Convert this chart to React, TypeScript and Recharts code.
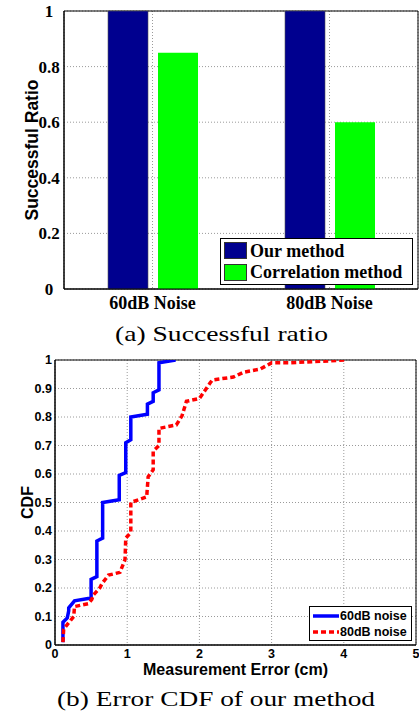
import {
  Bar,
  BarChart,
  CartesianGrid,
  Label,
  Legend,
  Line,
  LineChart,
  ReferenceArea,
  XAxis,
  YAxis,
} from "recharts";

// (a) successful ratio
const categories = ["60dB Noise", "80dB Noise"];
const barSeries = ["Our method", "Correlation method"];
const ourMethod = [1.0, 1.0];
const correlationMethod = [0.85, 0.6];
const ratioTicks = [0, 0.2, 0.4, 0.6, 0.8, 1];

// (b) error CDF
const lineSeries = ["60dB noise", "80dB noise"];
const err60 = [
  0.11, 0.11, 0.17, 0.19, 0.19, 0.27, 0.5, 0.5, 0.58, 0.58, 0.66, 0.66, 0.89,
  0.89, 0.98, 0.98, 1.05, 1.05, 1.28, 1.28, 1.36, 1.36, 1.44, 1.44, 1.67,
];
const cdf60 = [
  0.01, 0.08, 0.095, 0.12, 0.13, 0.155, 0.165, 0.23, 0.24, 0.365, 0.375, 0.5,
  0.51, 0.595, 0.605, 0.71, 0.72, 0.8, 0.81, 0.845, 0.855, 0.885, 0.895, 0.99,
  1.0,
];
const err80 = [
  0.11, 0.12, 0.18, 0.26, 0.27, 0.46, 0.51, 0.53, 0.62, 0.65, 0.74, 0.9, 0.97,
  0.98, 1.05, 1.05, 1.27, 1.29, 1.36, 1.36, 1.44, 1.44, 1.68, 1.76, 1.82, 2.0,
  2.07, 2.15, 2.18, 2.47, 2.61, 2.84, 3.0, 3.25, 4.04,
];
const cdf80 = [
  0.01, 0.055, 0.075, 0.1, 0.135, 0.145, 0.16, 0.175, 0.2, 0.215, 0.245, 0.255,
  0.3, 0.375, 0.395, 0.5, 0.52, 0.59, 0.615, 0.68, 0.7, 0.76, 0.772, 0.805,
  0.855, 0.865, 0.89, 0.92, 0.93, 0.94, 0.957, 0.968, 0.99, 0.99, 1.0,
];
const errTicks = [0, 1, 2, 3, 4, 5];
const cdfTicks = [0, 0.1, 0.2, 0.3, 0.4, 0.5, 0.6, 0.7, 0.8, 0.9, 1];

const barData = categories.map((name, i) => ({
  name,
  ours: ourMethod[i],
  corr: correlationMethod[i],
}));
const noise60 = err60.map((err, i) => ({ err, cdf: cdf60[i] }));
const noise80 = err80.map((err, i) => ({ err, cdf: cdf80[i] }));

const SERIF = '"Liberation Serif", "Times New Roman", serif';
const SANS = '"Liberation Sans", Arial, sans-serif';
const GRID = "#9a9a9a";

const lineDash: Record<string, string | undefined> = {
  "60dB noise": undefined,
  "80dB noise": "5 3",
};

// legend keeps series order, not alphabetical
const ordered = (payload: any[] = [], order: string[]) =>
  [...payload].sort((a, b) => order.indexOf(a.value) - order.indexOf(b.value));

function RatioTick({ y, payload }: any) {
  return (
    <text
      x={49}
      y={y}
      dy="0.35em"
      textAnchor="middle"
      fontFamily={SERIF}
      fontWeight="bold"
      fontSize={17}
      fill="#000"
    >
      {payload.value}
    </text>
  );
}

function SideLabel({ viewBox, text, x, size }: any) {
  const cy = viewBox.y + viewBox.height / 2;
  return (
    <text
      x={x}
      y={cy}
      transform={`rotate(-90 ${x} ${cy})`}
      textAnchor="middle"
      dominantBaseline="central"
      fontFamily={SANS}
      fontWeight="bold"
      fontSize={size}
      fill="#000"
    >
      {text}
    </text>
  );
}

function BarLegend({ payload }: any) {
  return (
    <div
      style={{
        boxSizing: "border-box",
        width: 193,
        height: 47,
        border: "1px solid #000",
        background: "#fff",
        padding: "1px 3px",
      }}
    >
      {ordered(payload, barSeries).map((entry: any) => (
        <div
          key={entry.value}
          style={{ display: "flex", alignItems: "center", height: 21.5 }}
        >
          <span
            style={{
              boxSizing: "border-box",
              width: 23,
              height: 17,
              background: entry.color,
              border: "1px solid #333",
            }}
          />
          <span
            style={{
              marginLeft: 3,
              fontFamily: SERIF,
              fontWeight: "bold",
              fontSize: 18,
              lineHeight: "18px",
              color: "#000",
              whiteSpace: "nowrap",
            }}
          >
            {entry.value}
          </span>
        </div>
      ))}
    </div>
  );
}

function LineLegend({ payload }: any) {
  return (
    <div
      style={{
        boxSizing: "border-box",
        width: 103,
        height: 35,
        border: "1px solid #000",
        background: "#fff",
        padding: "1px 3px",
      }}
    >
      {ordered(payload, lineSeries).map((entry: any) => (
        <div
          key={entry.value}
          style={{ display: "flex", alignItems: "center", height: 16 }}
        >
          <svg width={26} height={6}>
            <line
              x1={0}
              y1={3}
              x2={26}
              y2={3}
              stroke={entry.color}
              strokeWidth={3.5}
              strokeDasharray={lineDash[entry.value]}
            />
          </svg>
          <span
            style={{
              marginLeft: 1,
              fontFamily: SANS,
              fontWeight: "bold",
              fontSize: 12.5,
              lineHeight: "13px",
              color: "#000",
              whiteSpace: "nowrap",
            }}
          >
            {entry.value}
          </span>
        </div>
      ))}
    </div>
  );
}

export default function App() {
  return (
    <div
      style={{
        position: "absolute",
        left: 0,
        top: 0,
        width: 419,
        height: 713,
        background: "#fff",
      }}
    >
      <div style={{ position: "absolute", left: 0, top: 0 }}>
        <BarChart
          width={419}
          height={330}
          data={barData}
          margin={{ top: 11, right: 1, bottom: 0, left: 0 }}
          barSize={40}
          barGap={10}
        >
          <CartesianGrid strokeDasharray="1 2" stroke={GRID} />
          <XAxis
            dataKey="name"
            height={41}
            axisLine={{ stroke: "#000" }}
            tickLine={false}
            tickSize={4}
            tickMargin={3}
            tick={{
              fontFamily: SERIF,
              fontWeight: "bold",
              fontSize: 18,
              fill: "#000",
            }}
          />
          <YAxis
            width={64}
            domain={[0, 1]}
            ticks={ratioTicks}
            axisLine={{ stroke: "#000" }}
            tickLine={false}
            tick={<RatioTick />}
          >
            <Label
              content={<SideLabel text="Successful Ratio" x={24.5} size={17.5} />}
            />
          </YAxis>
          <Bar
            dataKey="ours"
            name={barSeries[0]}
            fill="#00008F"
            stroke="#555"
            strokeWidth={0.6}
            isAnimationActive={false}
          />
          <Bar
            dataKey="corr"
            name={barSeries[1]}
            fill="#00FF00"
            isAnimationActive={false}
          />
          <ReferenceArea
            y1={0}
            y2={1}
            fill="none"
            stroke="#000"
            strokeWidth={1}
            ifOverflow="visible"
          />
          <Legend
            layout="vertical"
            align="center"
            verticalAlign="middle"
            content={<BarLegend />}
            wrapperStyle={{ left: 220, top: 238, width: 193, height: 47 }}
          />
        </BarChart>
      </div>

      <div style={{ position: "absolute", left: 0, top: 345 }}>
        <LineChart
          width={419}
          height={335}
          margin={{ top: 15, right: 3, bottom: 0, left: 0 }}
        >
          <CartesianGrid strokeDasharray="1 2" stroke={GRID} />
          <XAxis
            dataKey="err"
            type="number"
            domain={[0, 5]}
            ticks={errTicks}
            allowDataOverflow
            height={35}
            axisLine={{ stroke: "#000" }}
            tickLine={false}
            tickSize={2}
            tickMargin={2.5}
            tick={{
              fontFamily: SANS,
              fontWeight: "bold",
              fontSize: 12.5,
              fill: "#000",
            }}
          >
            <Label
              value="Measurement Error (cm)"
              position="insideBottom"
              offset={5}
              style={{
                fontFamily: SANS,
                fontWeight: "bold",
                fontSize: 16,
                fill: "#000",
              }}
            />
          </XAxis>
          <YAxis
            dataKey="cdf"
            type="number"
            width={55}
            domain={[0, 1]}
            ticks={cdfTicks}
            allowDataOverflow
            axisLine={{ stroke: "#000" }}
            tickLine={false}
            tickSize={2}
            tickMargin={1}
            tick={{
              fontFamily: SANS,
              fontWeight: "bold",
              fontSize: 12.5,
              fill: "#000",
            }}
          >
            <Label content={<SideLabel text="CDF" x={22.5} size={16} />} />
          </YAxis>
          <Line
            data={noise60}
            dataKey="cdf"
            name={lineSeries[0]}
            type="linear"
            stroke="#0000FF"
            strokeWidth={3.5}
            dot={false}
            isAnimationActive={false}
          />
          <Line
            data={noise80}
            dataKey="cdf"
            name={lineSeries[1]}
            type="linear"
            stroke="#FF0000"
            strokeWidth={3.5}
            strokeDasharray="5 3"
            dot={false}
            isAnimationActive={false}
          />
          <ReferenceArea
            x1={0}
            x2={5}
            y1={0}
            y2={1}
            fill="none"
            stroke="#000"
            strokeWidth={1}
            ifOverflow="visible"
          />
          <Legend
            layout="vertical"
            align="center"
            verticalAlign="middle"
            content={<LineLegend />}
            wrapperStyle={{ left: 309, top: 261, width: 103, height: 35 }}
          />
        </LineChart>
      </div>

      <svg
        width={419}
        height={713}
        style={{ position: "absolute", left: 0, top: 0, pointerEvents: "none" }}
      >
        <text
          x={221.5}
          y={341}
          textAnchor="middle"
          fontFamily={SERIF}
          fontSize={21}
          fill="#000"
          textLength={213}
          lengthAdjust="spacingAndGlyphs"
        >
          (a) Successful ratio
        </text>
        <text
          x={216}
          y={706}
          textAnchor="middle"
          fontFamily={SERIF}
          fontSize={21}
          fill="#000"
          textLength={318}
          lengthAdjust="spacingAndGlyphs"
        >
          (b) Error CDF of our method
        </text>
      </svg>
    </div>
  );
}
